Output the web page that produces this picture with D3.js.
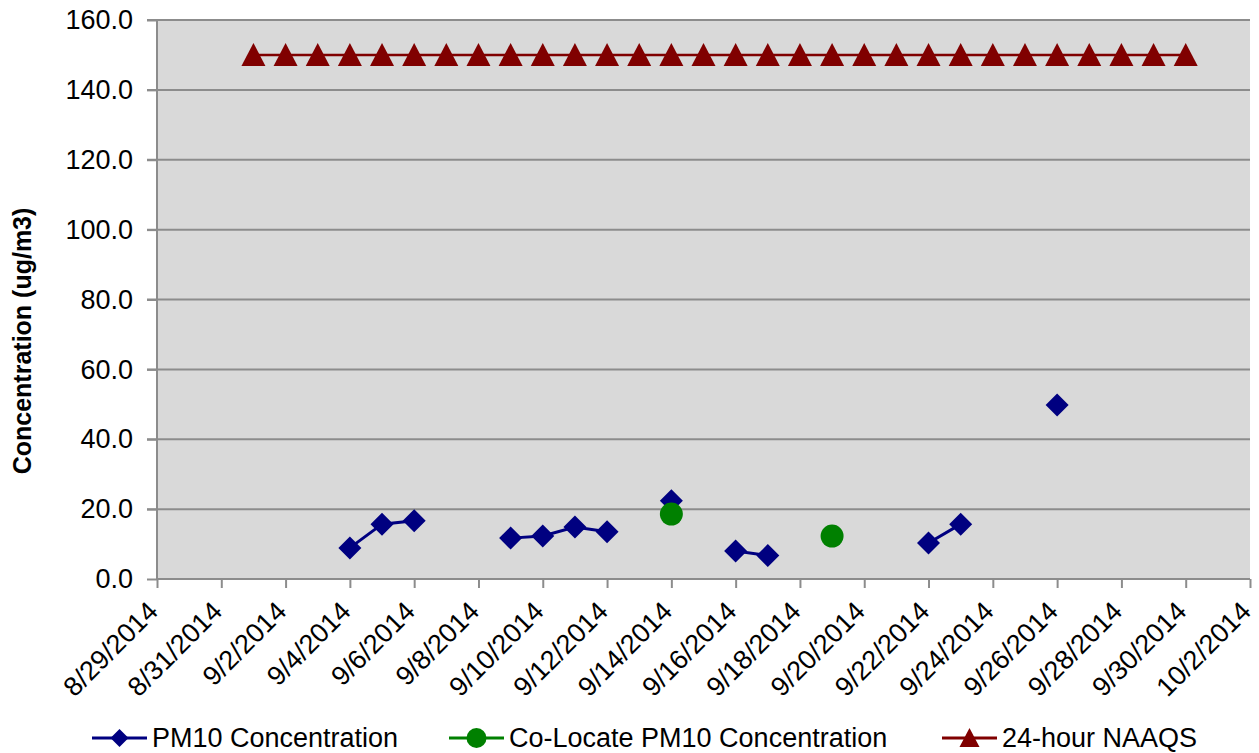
<!doctype html>
<html lang="en">
<head>
<meta charset="utf-8">
<title>PM10 concentration chart</title>
<script src="https://cdn.jsdelivr.net/npm/d3@7/dist/d3.min.js"></script>
<style>
    body { margin: 0; background: #fff; }
    svg { display: block; font-family: "Liberation Sans", Arial, sans-serif; }
    .grid line { stroke: #8c8c8c; stroke-width: 2; }
    .axis path, .axis line { stroke: #8c8c8c; stroke-width: 2; }
    .axis text { fill: #000; font-size: 27px; }
</style>
</head>
<body>
<svg></svg>
<script>
    // sampling days, Sept 2014
    var days = ["9/1/2014", "9/2/2014", "9/3/2014", "9/4/2014", "9/5/2014", "9/6/2014",
        "9/7/2014", "9/8/2014", "9/9/2014", "9/10/2014", "9/11/2014", "9/12/2014",
        "9/13/2014", "9/14/2014", "9/15/2014", "9/16/2014", "9/17/2014", "9/18/2014",
        "9/19/2014", "9/20/2014", "9/21/2014", "9/22/2014", "9/23/2014", "9/24/2014",
        "9/25/2014", "9/26/2014", "9/27/2014", "9/28/2014", "9/29/2014", "9/30/2014"];

    var pm10 = [null, null, null, 8.9, 15.7, 16.7,
        null, null, 11.7, 12.3, 14.9, 13.5,
        null, 22.4, null, 8.0, 6.7, null,
        null, null, null, 10.3, 15.7, null,
        null, 49.8, null, null, null, null];

    var colocate = [null, null, null, null, null, null,
        null, null, null, null, null, null,
        null, 18.6, null, null, null, null,
        12.3, null, null, null, null, null,
        null, null, null, null, null, null];

    var naaqs = [150, 150, 150, 150, 150, 150,
        150, 150, 150, 150, 150, 150,
        150, 150, 150, 150, 150, 150,
        150, 150, 150, 150, 150, 150,
        150, 150, 150, 150, 150, 150];

    var xTickLabels = ["8/29/2014", "8/31/2014", "9/2/2014", "9/4/2014", "9/6/2014",
        "9/8/2014", "9/10/2014", "9/12/2014", "9/14/2014", "9/16/2014", "9/18/2014",
        "9/20/2014", "9/22/2014", "9/24/2014", "9/26/2014", "9/28/2014", "9/30/2014",
        "10/2/2014"];
    var yTicks = [0, 20, 40, 60, 80, 100, 120, 140, 160];

    var seriesNames = ["PM10 Concentration", "Co-Locate PM10 Concentration", "24-hour NAAQS"];

    var width = 1259, height = 753;
    var plotLeft = 157, plotRight = 1250, plotTop = 20, plotBottom = 579;

    var parseDate = d3.timeParse("%m/%d/%Y");
    var formatDate = d3.timeFormat("%-m/%-d/%Y");

    var svg = d3.select("svg").attr("width", width).attr("height", height);

    var xScale = d3.scaleTime()
        .domain([parseDate(xTickLabels[0]), parseDate(xTickLabels[xTickLabels.length - 1])])
        .range([plotLeft, plotRight]);

    var yScale = d3.scaleLinear()
        .domain([0, 160])
        .range([plotBottom, plotTop]);

    // plot area
    svg.append("rect")
        .attr("x", plotLeft).attr("y", plotTop)
        .attr("width", plotRight - plotLeft).attr("height", plotBottom - plotTop)
        .attr("fill", "#d9d9d9");

    // horizontal gridlines (extend left as tick marks)
    svg.append("g").attr("class", "grid")
        .selectAll("line")
        .data(yTicks.slice(1))
        .enter().append("line")
        .attr("x1", plotLeft - 10).attr("x2", plotRight)
        .attr("y1", function (d) { return yScale(d); })
        .attr("y2", function (d) { return yScale(d); });

    var yAxis = d3.axisLeft(yScale)
        .tickValues(yTicks)
        .tickSize(10)
        .tickPadding(14)
        .tickFormat(d3.format(".1f"));

    svg.append("g").attr("class", "axis")
        .attr("transform", "translate(" + plotLeft + ",0)")
        .call(yAxis)
        .call(function (g) { g.select(".domain").attr("d", "M0," + plotTop + "V" + plotBottom); });

    var xAxis = d3.axisBottom(xScale)
        .tickValues(xTickLabels.map(parseDate))
        .tickSize(9)
        .tickFormat(formatDate);

    var gx = svg.append("g").attr("class", "axis")
        .attr("transform", "translate(0," + plotBottom + ")")
        .call(xAxis);
    gx.select(".domain").attr("d", "M" + plotLeft + ",0H" + plotRight);
    gx.selectAll("text")
        .attr("text-anchor", "end")
        .attr("dy", null)
        .attr("y", 0)
        .attr("transform", "translate(2,34) rotate(-45)");

    // y title
    svg.append("text")
        .attr("transform", "translate(31,341) rotate(-90)")
        .attr("text-anchor", "middle")
        .attr("font-size", "25px")
        .attr("font-weight", "bold")
        .text("Concentration (ug/m3)");

    function rows(vals) {
        return days.map(function (d, i) { return { date: parseDate(d), value: vals[i] }; });
    }

    var line = d3.line()
        .defined(function (d) { return d.value != null; })
        .x(function (d) { return xScale(d.date); })
        .y(function (d) { return yScale(d.value); });

    var diamond = "M0,-11.5L11.5,0L0,11.5L-11.5,0Z";
    var triangle = "M0,-12L12,11L-12,11Z";

    // NAAQS
    var naaqsRows = rows(naaqs);
    svg.append("path").datum(naaqsRows)
        .attr("d", line).attr("fill", "none")
        .attr("stroke", "#800000").attr("stroke-width", 2.5);
    svg.selectAll(".tri").data(naaqsRows).enter().append("path")
        .attr("class", "tri")
        .attr("d", triangle)
        .attr("fill", "#800000")
        .attr("transform", function (d) { return "translate(" + xScale(d.date) + "," + yScale(d.value) + ")"; });

    // PM10
    var pmRows = rows(pm10);
    svg.append("path").datum(pmRows)
        .attr("d", line).attr("fill", "none")
        .attr("stroke", "#000080").attr("stroke-width", 3);
    svg.selectAll(".dia").data(pmRows.filter(function (d) { return d.value != null; }))
        .enter().append("path")
        .attr("class", "dia")
        .attr("d", diamond)
        .attr("fill", "#000080")
        .attr("transform", function (d) { return "translate(" + xScale(d.date) + "," + yScale(d.value) + ")"; });

    // Co-locate
    var coRows = rows(colocate);
    svg.append("path").datum(coRows)
        .attr("d", line).attr("fill", "none")
        .attr("stroke", "#008000").attr("stroke-width", 3);
    svg.selectAll(".dot").data(coRows.filter(function (d) { return d.value != null; }))
        .enter().append("circle")
        .attr("class", "dot")
        .attr("cx", function (d) { return xScale(d.date); })
        .attr("cy", function (d) { return yScale(d.value); })
        .attr("r", 11.5)
        .attr("fill", "#008000");

    // legend
    var legendX = [92, 449, 942];
    var legendColors = ["#000080", "#008000", "#800000"];
    var legendMarks = ["M0,-9L9,0L0,9L-9,0Z", null, "M0,-10L10,9L-10,9Z"];
    var legY = 738;
    var leg = svg.append("g").selectAll("g")
        .data(seriesNames).enter().append("g")
        .attr("transform", function (d, i) { return "translate(" + legendX[i] + "," + legY + ")"; });
    leg.append("line")
        .attr("x1", 0).attr("x2", 55)
        .attr("stroke", function (d, i) { return legendColors[i]; })
        .attr("stroke-width", 3);
    leg.each(function (d, i) {
        var g = d3.select(this);
        if (legendMarks[i]) {
            g.append("path").attr("d", legendMarks[i])
                .attr("transform", "translate(27.5,0)")
                .attr("fill", legendColors[i]);
        } else {
            g.append("circle").attr("cx", 27.5).attr("r", 10).attr("fill", legendColors[i]);
        }
    });
    leg.append("text")
        .attr("x", 60).attr("y", 9)
        .attr("font-size", "27px")
        .attr("fill", "#000")
        .text(function (d) { return d; });
</script>
</body>
</html>
